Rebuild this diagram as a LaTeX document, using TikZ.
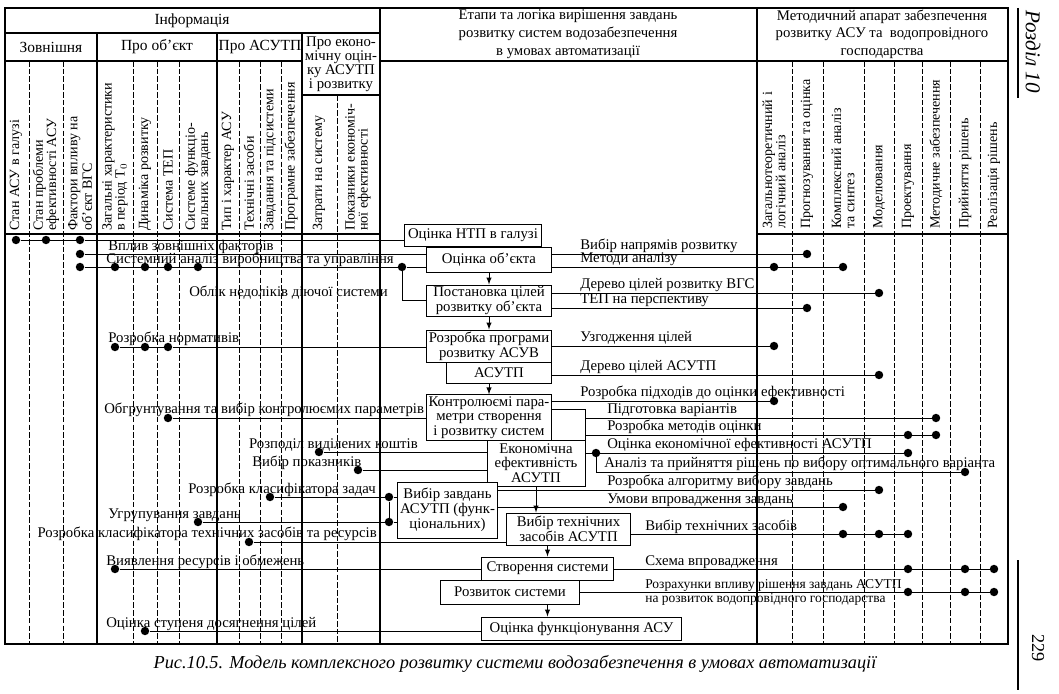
\documentclass[tikz,border=0pt]{standalone}
\usepackage{fontspec}
\setmainfont{Liberation Serif}
\usetikzlibrary{arrows.meta,calc,positioning}

\begin{document}
\begin{tikzpicture}[x=0.025cm,y=-0.025cm,
        font=\fontsize{10.5}{10.5}\selectfont,
        box/.style={draw,line width=0.7pt,fill=white,align=center,inner sep=1pt},
        dot/.style={circle,fill,inner sep=0pt,minimum size=6pt},
        lbl/.style={inner sep=0pt},
        col/.style={rotate=90,anchor=west,align=left,inner sep=0pt,font=\fontsize{10}{9.3}\selectfont},
        grid/.style={dash pattern=on 4pt off 1.5pt,line width=0.5pt},
        frame/.style={line width=1pt},
        link/.style={line width=0.7pt}]
        \useasboundingbox (0,0) rectangle (1059,694);
        %Table
        \draw[frame] (5,8) rectangle (1008,644);
        \draw[frame] (5,33) -- (380,33);
        \draw[frame] (5,61) -- (302,61) (380,61) -- (1008,61);
        \draw[frame] (302,95) -- (380,95);
        \draw[frame] (5,234) -- (380,234) (757,234) -- (1008,234);
        \draw[frame] (380,8) -- (380,644) (757,8) -- (757,644);
        \draw[frame] (97,33) -- (97,644) (217,33) -- (217,644) (302,33) -- (302,644);
        \foreach \x in {29,63,133,157,179,239,260,281} \draw[grid] (\x,61) -- (\x,644);
        \draw[grid] (337,95) -- (337,644);
        \foreach \x in {792,823,864,894,922,950,980} \draw[grid] (\x,61) -- (\x,644);
        %Headers
        \node[font=\fontsize{11}{11}\selectfont] (hInfo) at (192,21) {Інформація};
        \node[font=\fontsize{11}{11}\selectfont] (hExt) at (51,47) {Зовнішня};
        \node[font=\fontsize{11}{11}\selectfont] (hObj) at (157,47) {Про об'єкт};
        \node[font=\fontsize{11}{11}\selectfont] (hAsu) at (260,47) {Про АСУТП};
        \node[align=center,font=\fontsize{10.5}{10}\selectfont] (hEco) at (341,64) {Про еконо-\\мічну оцін-\\ку АСУТП\\і розвитку};
        \node[align=center,font=\fontsize{10.5}{13}\selectfont] (hStage) at (568,34) {Етапи та логіка вирішення завдань\\розвитку систем водозабезпечення\\в умовах автоматизації};
        \node[align=center,font=\fontsize{10.5}{12.5}\selectfont] (hMeth) at (882,34) {Методичний апарат забезпечення\\розвитку АСУ та\ \ водопровідного\\господарства};
        %Column titles
        \node[col] (k1) at (16,231) {Стан АСУ в галузі};
        \node[col] (k2) at (46,231) {Стан проблеми\\ефективності АСУ};
        \node[col] (k3) at (80,231) {Фактори впливу на\\об'єкт ВГС};
        \node[col] (k4) at (115,231) {Загальні характеристики\\в період Т$_0$};
        \node[col] (k5) at (145,231) {Динаміка розвитку};
        \node[col] (k6) at (168,231) {Система ТЕП};
        \node[col] (k7) at (198,231) {Системе функціо-\\нальних завдань};
        \node[col] (k8) at (228,231) {Тип і характер АСУ};
        \node[col] (k9) at (249,231) {Технічні засоби};
        \node[col] (k10) at (270,231) {Завдання та підсистеми};
        \node[col] (k11) at (291,231) {Програмне забезпечення};
        \node[col] (k12) at (319,231) {Затрати на систему};
        \node[col] (k13) at (358,231) {Показники економіч-\\ної ефективності};
        \node[col] (m1) at (774,229) {Загальнотеоретичний і\\логічний аналіз};
        \node[col] (m2) at (807,229) {Прогнозування та оцінка};
        \node[col] (m3) at (843,229) {Комплексний аналіз\\та синтез};
        \node[col] (m4) at (879,229) {Моделювання};
        \node[col] (m5) at (908,229) {Проектування};
        \node[col] (m6) at (936,229) {Методичне забезпечення};
        \node[col] (m7) at (965,229) {Прийняття рішень};
        \node[col] (m8) at (994,229) {Реалізація рішень};
        %Boxes
        \node[box,minimum width=3.4cm,minimum height=0.55cm] (bNTP) at (473,235) {Оцінка НТП в галузі};
        \node[box,minimum width=3.1cm,minimum height=0.625cm] (bObj) at (489,260) {Оцінка об'єкта};
        \node[box,minimum width=3.1cm,minimum height=0.775cm] (bGoal) at (489,300.5) {Постановка цілей\\розвитку об'єкта};
        \node[box,minimum width=2.6cm,minimum height=0.525cm] (bAsutp) at (499,372.5) {АСУТП};
        \node[box,minimum width=3.1cm,minimum height=0.8cm] (bProg) at (489,346) {Розробка програми\\розвитку АСУВ};
        \node[box,minimum width=3.1cm,minimum height=1.125cm] (bCtrl) at (489,417.5) {Контролюємі пара-\\метри створення\\і розвитку систем};
        \node[box,minimum width=2.45cm,minimum height=1.15cm] (bEcon) at (536,463) {Економічна\\ефективність\\АСУТП};
        \node[box,minimum width=2.475cm,minimum height=1.4cm] (bTask) at (447.5,510) {Вибір завдань\\АСУТП (функ-\\ціональних)};
        \node[box,minimum width=3.075cm,minimum height=0.8cm] (bTech) at (568.5,529) {Вибір технічних\\засобів АСУТП};
        \node[box,minimum width=3.275cm,minimum height=0.575cm] (bBuild) at (547.5,568.5) {Створення системи};
        \node[box,minimum width=3.45cm,minimum height=0.6cm] (bDev) at (510,592) {Розвиток системи};
        \node[box,minimum width=4.975cm,minimum height=0.575cm] (bEval) at (581.5,628.5) {Оцінка функціонування АСУ};
        %Dots, information side
        \node[dot] (a1) at (16,240) {};
        \node[dot] (a2) at (46,240) {};
        \node[dot] (a3) at (80,240) {};
        \node[dot] (b1) at (80,254) {};
        \node[dot] (s1) at (80,267) {};
        \node[dot] (s2) at (115,267) {};
        \node[dot] (s3) at (145,267) {};
        \node[dot] (s4) at (168,267) {};
        \node[dot] (s5) at (198,267) {};
        \node[dot] (s6) at (402,267) {};
        \node[dot] (n1) at (115,347) {};
        \node[dot] (n2) at (145,347) {};
        \node[dot] (n3) at (168,347) {};
        \node[dot] (o1) at (168,418) {};
        \node[dot] (p1) at (319,452) {};
        \node[dot] (v1) at (358,470) {};
        \node[dot] (z1) at (270,497) {};
        \node[dot] (z2) at (389,497) {};
        \node[dot] (u1) at (198,522) {};
        \node[dot] (u2) at (389,522) {};
        \node[dot] (t1) at (249,542) {};
        \node[dot] (e1) at (115,569) {};
        \node[dot] (g1) at (145,631) {};
        %Dots, method side
        \node[dot] (rA) at (807,254) {};
        \node[dot] (rB1) at (774,267) {};
        \node[dot] (rB2) at (843,267) {};
        \node[dot] (rC) at (879,293) {};
        \node[dot] (rD) at (807,308) {};
        \node[dot] (rE) at (774,346) {};
        \node[dot] (rF) at (879,375) {};
        \node[dot] (rG) at (774,401) {};
        \node[dot] (rH) at (936,418) {};
        \node[dot] (rI1) at (908,435) {};
        \node[dot] (rI2) at (936,435) {};
        \node[dot] (rJ0) at (596,453) {};
        \node[dot] (rJ) at (908,453) {};
        \node[dot] (rK) at (965,472) {};
        \node[dot] (rL) at (879,490) {};
        \node[dot] (rM) at (843,507) {};
        \node[dot] (rN1) at (843,534) {};
        \node[dot] (rN2) at (879,534) {};
        \node[dot] (rN3) at (908,534) {};
        \node[dot] (rO1) at (908,569) {};
        \node[dot] (rO2) at (965,569) {};
        \node[dot] (rO3) at (994,569) {};
        \node[dot] (rP1) at (908,592) {};
        \node[dot] (rP2) at (965,592) {};
        \node[dot] (rP3) at (994,592) {};
        \coordinate (kc) at (585,409);
        %Links in
        \draw[link] (a1) -- (a3) -- (a3 -| bNTP.west);
        \draw[link] (b1) -- (b1 -| bObj.west);
        \draw[link] (s1) -- (s6) -- (s6 -| bObj.west);
        \draw[link] (s6) |- (bGoal.west);
        \draw[link] (n1) -- (n3) -- (n3 -| bProg.west);
        \draw[link] (o1) -- (o1 -| bCtrl.west);
        \draw[link] (p1) -- (p1 -| bEcon.west);
        \draw[link] (v1) -- (v1 -| bEcon.west);
        \draw[link] (z1) -- (z2) -- (z2 -| bTask.west);
        \draw[link] (u1) -- (u2) -- (u2 -| bTask.west);
        \draw[link] (z2) -- (u2);
        \draw[link] (t1) -- (t1 -| bTech.west);
        \draw[link] (e1) -- (e1 -| bBuild.west);
        \draw[link] (g1) -- (g1 -| bEval.west);
        %Links out
        \draw[link] (bObj.east |- rA) -- (rA);
        \draw[link] (bObj.east |- rB1) -- (rB2);
        \draw[link] (bGoal.east |- rC) -- (rC);
        \draw[link] (bGoal.east |- rD) -- (rD);
        \draw[link] (bProg.east |- rE) -- (rE);
        \draw[link] (bAsutp.east |- rF) -- (rF);
        \draw[link] (bCtrl.east |- rG) -- (rG);
        \draw[link] (bCtrl.east |- kc) -- (kc) -- (kc |- bEcon.north);
        \draw[link] (kc |- rH) -- (rH);
        \draw[link] (kc |- rI1) -- (rI2);
        \draw[link] (bEcon.east |- rJ0) -- (rJ);
        \draw[link] (rJ0) |- (rK);
        \draw[link] (bTask.east |- rL) -- (rL);
        \draw[link] (bTask.east |- rM) -- (rM);
        \draw[link] (bTech.east |- rN1) -- (rN3);
        \draw[link] (bBuild.east |- rO1) -- (rO3);
        \draw[link] (bDev.east |- rP1) -- (rP3);
        %Arrows
        \draw[link,-latex] (bObj) -- (bGoal);
        \draw[link,-latex] (bGoal) -- (bProg);
        \draw[link,-latex] (bAsutp.south -| bCtrl) -- (bCtrl);
        \draw[link,-latex] (bEcon) -- (bEcon |- bTech.north);
        \draw[link,-latex] (bTech.south -| bBuild) -- (bBuild);
        \draw[link,-latex] (bDev.south -| bBuild) -- (bBuild |- bEval.north);
        %Labels, information side
        \node[lbl,anchor=base west] (lA) at (108,251) {Вплив зовнішніх факторів};
        \node[lbl,anchor=base west] (lB) at (106,264) {Системний аналіз виробництва та управління};
        \node[lbl,anchor=base east] (lC) at (388,297) {Облік недоліків діючої системи};
        \node[lbl,anchor=base west] (lD) at (108,343) {Розробка нормативів};
        \node[lbl,anchor=base west] (lE) at (104,414) {Обгрунтування та вибір контролюємих параметрів};
        \node[lbl,anchor=base east] (lF) at (418,448) {Розподіл виділених коштів};
        \node[lbl,anchor=base west] (lG) at (252,466) {Вибір показників};
        \node[lbl,anchor=base east] (lH) at (376,493) {Розробка класифікатора задач};
        \node[lbl,anchor=base west] (lI) at (108,518) {Угрупування завдань};
        \node[lbl,anchor=base east] (lJ) at (377,537) {Розробка класифікатора технічних засобів та ресурсів};
        \node[lbl,anchor=base west] (lK) at (106,565) {Виявлення ресурсів і обмежень};
        \node[lbl,anchor=base west] (lL) at (106,627) {Оцінка ступеня досягнення цілей};
        %Labels, method side
        \node[lbl,anchor=base west] (tA) at (580,250) {Вибір напрямів розвитку};
        \node[lbl,anchor=base west] (tB) at (580,263) {Методи аналізу};
        \node[lbl,anchor=base west] (tC) at (580,289) {Дерево цілей розвитку ВГС};
        \node[lbl,anchor=base west] (tD) at (580,304) {ТЕП на перспективу};
        \node[lbl,anchor=base west] (tE) at (580,342) {Узгодження цілей};
        \node[lbl,anchor=base west] (tF) at (580,371) {Дерево цілей АСУТП};
        \node[lbl,anchor=base west] (tG) at (580,397) {Розробка підходів до оцінки ефективності};
        \node[lbl,anchor=base west] (tH) at (607,414) {Підготовка варіантів};
        \node[lbl,anchor=base west] (tI) at (607,431) {Розробка методів оцінки};
        \node[lbl,anchor=base west] (tJ) at (607,449) {Оцінка економічної ефективності АСУТП};
        \node[lbl,anchor=base west] (tK) at (604,468) {Аналіз та прийняття рішень по вибору оптимального варіанта};
        \node[lbl,anchor=base west] (tL) at (607,486) {Розробка алгоритму вибору завдань};
        \node[lbl,anchor=base west] (tM) at (607,503) {Умови впровадження завдань};
        \node[lbl,anchor=base west] (tN) at (645,530) {Вибір технічних засобів};
        \node[lbl,anchor=base west] (tO) at (645,565) {Схема впровадження};
        \node[lbl,anchor=base west,font=\fontsize{9.6}{9.6}\selectfont] (tP1) at (645,588) {Розрахунки впливу рішення завдань АСУТП};
        \node[lbl,anchor=base west,font=\fontsize{9.6}{9.6}\selectfont] (tP2) at (645,602) {на розвиток водопровідного господарства};
        %Page
        \node[font=\itshape\fontsize{13}{13}\selectfont] (cap) at (515,664) {Рис.10.5. Модель комплексного розвитку системи водозабезпечення в умовах автоматизації};
        \draw[line width=0.8pt] (1018,8) -- (1018,98);
        \draw[line width=0.8pt] (1018,560) -- (1018,690);
        \node[rotate=-90,anchor=west,inner sep=0pt,font=\itshape\fontsize{15}{15}\selectfont] (sec) at (1033,10) {Розділ 10};
        \node[rotate=-90,font=\fontsize{13}{13}\selectfont] (pg) at (1038,648) {229};
      \end{tikzpicture}
\end{document}
